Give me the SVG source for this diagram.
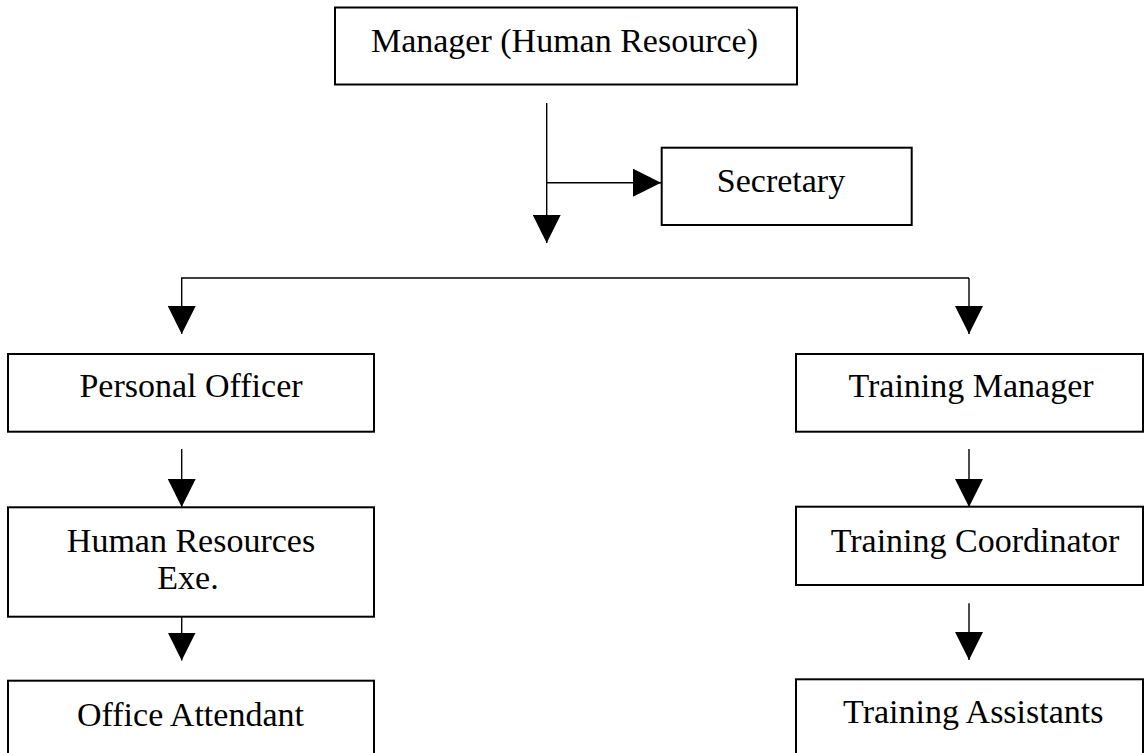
<svg xmlns="http://www.w3.org/2000/svg" width="1145" height="753" viewBox="0 0 1145 753">
<style>
.box{fill:#fff;stroke:#000;stroke-width:2}
.lbl{font-family:"Liberation Serif","Times New Roman",serif;font-size:34px;fill:#000;text-anchor:middle}
.ln{fill:none;stroke:#000;stroke-width:1.4}
.arr{marker-end:url(#ah)}
</style>
<defs>
<marker id="ah" markerUnits="userSpaceOnUse" markerWidth="28" markerHeight="28" refX="28" refY="14" orient="auto" viewBox="0 0 28 28">
<path d="M0,0 L28,14 L0,28 Z" fill="#000"/>
</marker>
</defs>
<rect width="1145" height="753" fill="#fff"/>
<g id="connectors">
<line class="ln arr" x1="546.7" y1="103" x2="546.7" y2="243"/>
<line class="ln arr" x1="546.7" y1="182.7" x2="661" y2="182.7"/>
<polyline class="ln arr" points="969,278 181.7,278 181.7,334"/>
<line class="ln arr" x1="969" y1="278" x2="969" y2="334"/>
<line class="ln arr" x1="181.7" y1="449" x2="181.7" y2="507"/>
<line class="ln arr" x1="969" y1="449" x2="969" y2="507"/>
<line class="ln arr" x1="181.7" y1="605" x2="181.7" y2="660.5"/>
<line class="ln arr" x1="969" y1="603.3" x2="969" y2="660"/>
</g>
<g id="manager">
<rect class="box" x="335" y="7.5" width="462" height="77"/>
<text class="lbl" x="564.5" y="52">Manager (Human Resource)</text>
</g>
<g id="secretary">
<rect class="box" x="661.7" y="147.7" width="250" height="77.3"/>
<text class="lbl" x="781" y="191.7">Secretary</text>
</g>
<g id="personal-officer">
<rect class="box" x="8" y="354" width="366" height="77.7"/>
<text class="lbl" x="191" y="397">Personal Officer</text>
</g>
<g id="training-manager">
<rect class="box" x="796" y="354" width="347" height="77.7"/>
<text class="lbl" x="971" y="397">Training Manager</text>
</g>
<g id="hr-exe">
<rect class="box" x="8" y="507.3" width="366" height="109.4"/>
<text class="lbl" x="191" y="551.7">Human Resources</text>
<text class="lbl" x="188" y="589.3">Exe.</text>
</g>
<g id="training-coordinator">
<rect class="box" x="796" y="506.7" width="347" height="78.3"/>
<text class="lbl" x="975" y="551.7">Training Coordinator</text>
</g>
<g id="office-attendant">
<rect class="box" x="8" y="680.7" width="366" height="90"/>
<text class="lbl" x="190.5" y="726">Office Attendant</text>
</g>
<g id="training-assistants">
<rect class="box" x="796" y="679.3" width="347" height="90"/>
<text class="lbl" x="973.3" y="722.5">Training Assistants</text>
</g>
</svg>
